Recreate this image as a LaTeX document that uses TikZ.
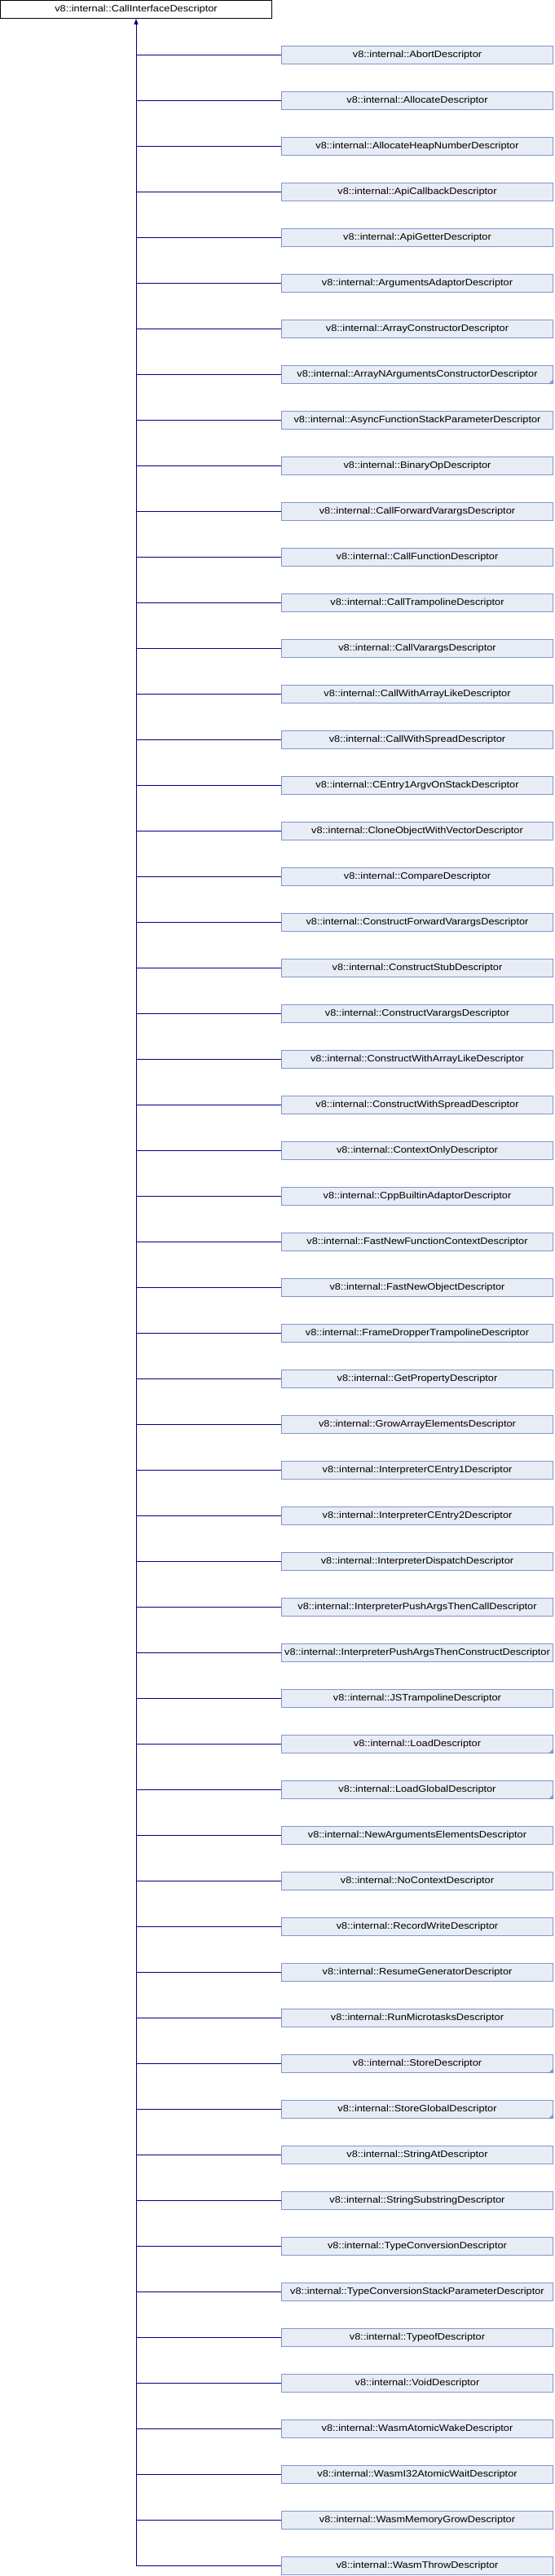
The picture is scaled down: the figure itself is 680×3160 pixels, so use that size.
\documentclass[tikz,border=0pt]{standalone}
\usepackage{fontspec}
\newfontfamily\dfont[FakeStretch=1.12]{Liberation Sans}
\usetikzlibrary{arrows.meta}
\definecolor{boxfill}{RGB}{232,236,245}
\definecolor{boxline}{RGB}{128,150,204}
\definecolor{linkcol}{RGB}{0,0,128}
\tikzset{
  cls/.style={draw=boxline, fill=boxfill, line width=1pt, minimum width=333pt, minimum height=22pt, inner sep=0pt, font=\dfont\fontsize{11.4}{12}\selectfont},
  rootcls/.style={cls, draw=black, fill=white},
  link/.style={draw=linkcol, line width=1pt},
  more/.style={fill=boxline}
}
\begin{document}
\begin{tikzpicture}[x=1pt,y=-1pt]
\useasboundingbox (0,0) rectangle (680,3160);
\node[rootcls] (root) at (167,11.5) {v8::internal::CallInterfaceDescriptor};
\foreach \n [count=\i] in {AbortDescriptor,AllocateDescriptor,AllocateHeapNumberDescriptor,ApiCallbackDescriptor,ApiGetterDescriptor,ArgumentsAdaptorDescriptor,ArrayConstructorDescriptor,ArrayNArgumentsConstructorDescriptor,AsyncFunctionStackParameterDescriptor,BinaryOpDescriptor,CallForwardVarargsDescriptor,CallFunctionDescriptor,CallTrampolineDescriptor,CallVarargsDescriptor,CallWithArrayLikeDescriptor,CallWithSpreadDescriptor,CEntry1ArgvOnStackDescriptor,CloneObjectWithVectorDescriptor,CompareDescriptor,ConstructForwardVarargsDescriptor,ConstructStubDescriptor,ConstructVarargsDescriptor,ConstructWithArrayLikeDescriptor,ConstructWithSpreadDescriptor,ContextOnlyDescriptor,CppBuiltinAdaptorDescriptor,FastNewFunctionContextDescriptor,FastNewObjectDescriptor,FrameDropperTrampolineDescriptor,GetPropertyDescriptor,GrowArrayElementsDescriptor,InterpreterCEntry1Descriptor,InterpreterCEntry2Descriptor,InterpreterDispatchDescriptor,InterpreterPushArgsThenCallDescriptor,InterpreterPushArgsThenConstructDescriptor,JSTrampolineDescriptor,LoadDescriptor,LoadGlobalDescriptor,NewArgumentsElementsDescriptor,NoContextDescriptor,RecordWriteDescriptor,ResumeGeneratorDescriptor,RunMicrotasksDescriptor,StoreDescriptor,StoreGlobalDescriptor,StringAtDescriptor,StringSubstringDescriptor,TypeConversionDescriptor,TypeConversionStackParameterDescriptor,TypeofDescriptor,VoidDescriptor,WasmAtomicWakeDescriptor,WasmI32AtomicWaitDescriptor,WasmMemoryGrowDescriptor,WasmThrowDescriptor}{
  \node[cls] (c\i) at (512,56*\i+11.5) {v8::internal::\n};
  \draw[link] (c\i.west) -- (c\i.west -| root.south);
}
\foreach \i in {8,38,39,45,46}{
  \fill[more] (c\i.south east) -- ++(-6,0) -- ++(6,-6) -- cycle;
}
\coordinate (trunkend) at (c56.west -| root.south);
\draw[link, -{Triangle[width=5pt,length=7pt]}] (trunkend) -- (root.south);
\end{tikzpicture}
\end{document}
